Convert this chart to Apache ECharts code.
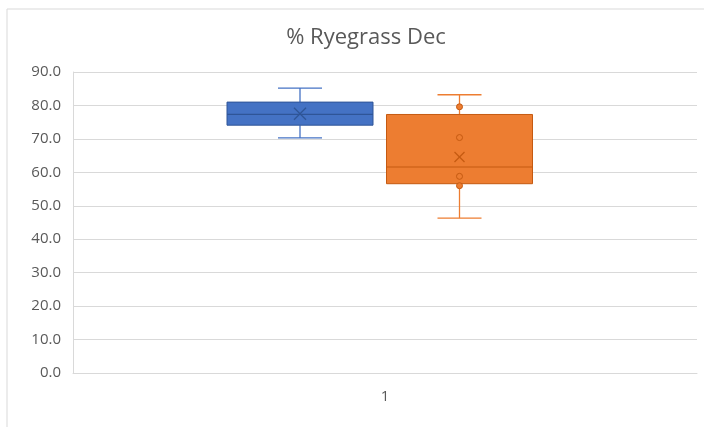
<!DOCTYPE html>
<html>
<head>
<meta charset="utf-8">
<script src="https://cdn.jsdelivr.net/npm/echarts@6/dist/echarts.min.js"></script>
<style>
  html, body { margin: 0; padding: 0; background: #fff; }
  #chart { width: 704px; height: 427px; }
</style>
</head>
<body>
<div id="chart"></div>
<script>
  const categories = ['1'];
  // [min, Q1, median, Q3, max, mean]
  const blueStats = [70.3, 74.1, 77.3, 81.0, 85.2, 77.5];
  const orangeStats = [46.3, 56.6, 61.6, 77.3, 83.2, 64.6];
  const orangePoints = [79.6, 70.4, 58.8, 56.0];
  const yTicks = { min: 0, max: 90, interval: 10 };

  // draws one Excel-style box: box, median, whiskers, caps and mean cross
  function boxRenderer(offset, fill, stroke, capHalf, crossHalf) {
    return function (params, api) {
      const cx = api.coord([api.value(0), 0])[0] + offset;
      const y = i => api.coord([api.value(0), api.value(i)])[1];
      const half = 73;
      const lineStyle = { stroke: fill, lineWidth: 1.3 };
      const yMin = y(1), yQ1 = y(2), yMed = y(3), yQ3 = y(4), yMax = y(5), yMean = y(6);
      return {
        type: 'group',
        children: [
          { type: 'line', shape: { x1: cx, y1: yMax, x2: cx, y2: yQ3 }, style: lineStyle },
          { type: 'line', shape: { x1: cx, y1: yQ1, x2: cx, y2: yMin }, style: lineStyle },
          { type: 'line', shape: { x1: cx - capHalf, y1: yMax, x2: cx + capHalf, y2: yMax }, style: lineStyle },
          { type: 'line', shape: { x1: cx - capHalf, y1: yMin, x2: cx + capHalf, y2: yMin }, style: lineStyle },
          {
            type: 'rect',
            shape: { x: cx - half, y: yQ3, width: half * 2, height: yQ1 - yQ3 },
            style: { fill: fill, stroke: stroke, lineWidth: 1 }
          },
          { type: 'line', shape: { x1: cx - half, y1: yMed, x2: cx + half, y2: yMed }, style: { stroke: stroke, lineWidth: 1.2 } },
          { type: 'line', shape: { x1: cx - crossHalf, y1: yMean - crossHalf, x2: cx + crossHalf, y2: yMean + crossHalf }, style: { stroke: stroke, lineWidth: 1.3 } },
          { type: 'line', shape: { x1: cx - crossHalf, y1: yMean + crossHalf, x2: cx + crossHalf, y2: yMean - crossHalf }, style: { stroke: stroke, lineWidth: 1.3 } }
        ]
      };
    };
  }

  const chart = echarts.init(document.getElementById('chart'));
  chart.setOption({
    animation: false,
    backgroundColor: '#fff',
    graphic: [{
      type: 'rect',
      shape: { x: 7, y: 9, width: 720, height: 440 },
      style: { fill: 'none', stroke: '#d9d9d9', lineWidth: 1 },
      z: -1
    }],
    title: {
      text: '% Ryegrass Dec',
      left: 361,
      textAlign: 'center',
      top: 22,
      textStyle: { fontFamily: 'Open Sans', fontSize: 22, fontWeight: 'normal', color: '#595959' }
    },
    grid: { left: 73, right: 7, top: 72, bottom: 54, containLabel: false },
    xAxis: {
      type: 'category',
      data: categories,
      axisLine: { lineStyle: { color: '#d9d9d9' } },
      axisTick: { show: false },
      axisLabel: { color: '#595959', fontFamily: 'Open Sans', fontSize: 15, margin: 16 }
    },
    yAxis: {
      type: 'value',
      min: yTicks.min,
      max: yTicks.max,
      interval: yTicks.interval,
      axisLine: { show: true, lineStyle: { color: '#d9d9d9' } },
      axisTick: { show: false },
      splitLine: { lineStyle: { color: '#d9d9d9' } },
      axisLabel: {
        color: '#595959', fontFamily: 'Open Sans', fontSize: 15, margin: 12,
        formatter: v => v.toFixed(1)
      }
    },
    series: [
      {
        type: 'custom',
        name: 'Blue',
        renderItem: boxRenderer(-85, '#4472C4', '#2F5597', 22, 6),
        encode: { x: 0, y: [1, 2, 3, 4, 5] },
        data: [[0, ...blueStats]]
      },
      {
        type: 'custom',
        name: 'Orange',
        renderItem: boxRenderer(74.5, '#ED7D31', '#C55A11', 22, 5),
        encode: { x: 0, y: [1, 2, 3, 4, 5] },
        data: [[0, ...orangeStats]]
      },
      {
        type: 'scatter',
        name: 'Orange points',
        symbol: 'circle',
        symbolSize: 6,
        symbolOffset: [74.5, 0],
        itemStyle: { color: '#ED7D31', borderColor: '#C55A11', borderWidth: 1, opacity: 1 },
        data: orangePoints.map(v => [0, v]),
        z: 5
      }
    ]
  });
</script>
</body>
</html>
